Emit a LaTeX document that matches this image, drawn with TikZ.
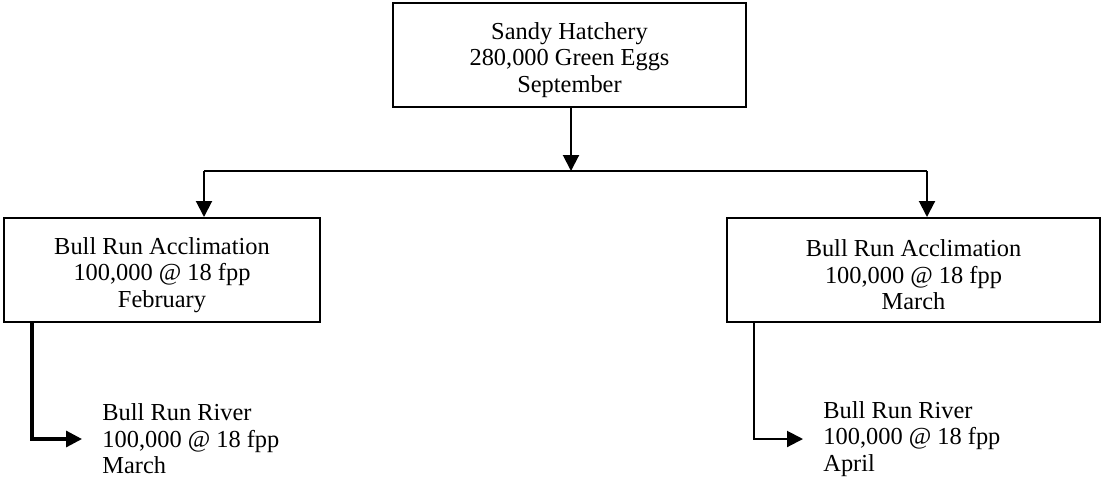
\documentclass[tikz,border=0pt]{standalone}
\usepackage{fontspec}
\setmainfont{Liberation Serif}
\usetikzlibrary{arrows.meta}
\newcommand{\toppad}{\rule{0pt}{13.5pt}}
\tikzset{
  stagebox/.style={draw, line width=1pt, align=center, minimum height=52pt, inner sep=0pt},
  release/.style={align=left, anchor=west, inner xsep=10pt, inner ysep=0pt},
  flow/.style={line width=1pt, -{Triangle[length=8pt,width=8pt]}}
}
\begin{document}
\begin{tikzpicture}[x=0.5pt, y=-0.5pt, font=\fontsize{12.2}{13.3}\selectfont]
    \useasboundingbox (0,0) rectangle (1102,478);

    % Draw nodes
    \node[stagebox, minimum width=176.5pt] (sandy) at (569.5,55) {\toppad Sandy Hatchery\\280,000 Green Eggs\\September};
    \node[stagebox, minimum width=158pt] (accFeb) at (162,270) {\toppad Bull Run Acclimation\\100,000 @ 18 fpp\\February};
    \node[stagebox, minimum width=186.5pt] (accMar) at (913.5,270) {\toppad Bull Run Acclimation\\100,000 @ 18 fpp\\March};
    \node[release] (riverMar) at (82,439) {Bull Run River\\100,000 @ 18 fpp\\March};
    \node[release] (riverApr) at (803,439) {Bull Run River\\100,000 @ 18 fpp\\April};

    % Split points
    \coordinate (split) at (571,171);
    \coordinate (splitL) at (204,171);
    \coordinate (splitR) at (927,171);

    % Draw directed edges
    \draw[flow] (sandy.south -| split) -- (split); % hatchery to split
    \draw[line width=1pt] (splitL) -- (splitR);
    \draw[flow] (splitL) -- (splitL |- accFeb.north); % to February
    \draw[flow] (splitR) -- (splitR |- accMar.north); % to March
    \draw[flow, line width=1.6pt] ([xshift=14.5pt]accFeb.south west) |- (riverMar.west); % release in March
    \draw[flow] ([xshift=14pt]accMar.south west) |- (riverApr.west); % release in April
\end{tikzpicture}
\end{document}
